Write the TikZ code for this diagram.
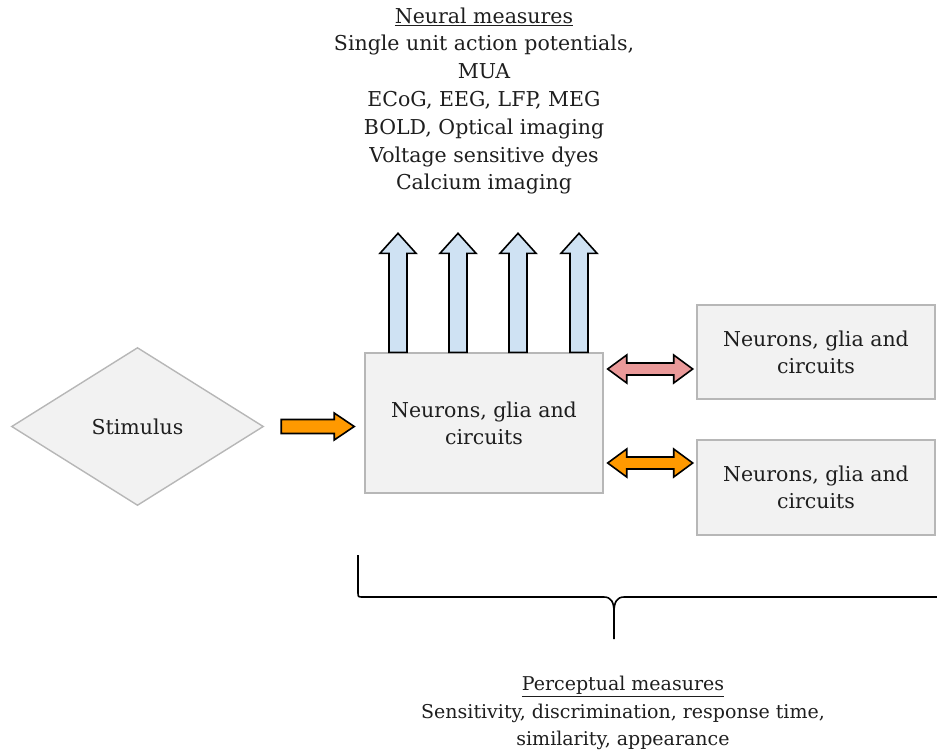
\documentclass[tikz,border=0pt]{standalone}
\usepackage{fontspec}
\setmainfont{DejaVu Serif}
\usetikzlibrary{shapes.geometric,calc}
\definecolor{boxfill}{HTML}{F2F2F2}
\definecolor{boxline}{HTML}{B7B7B7}
\definecolor{bluefill}{HTML}{CFE2F3}
\definecolor{orangefill}{HTML}{FF9900}
\definecolor{pinkfill}{HTML}{EA9999}
\definecolor{txt}{HTML}{1E1E1E}
\begin{document}
\begin{tikzpicture}[x=1pt,y=-1pt,
  every node/.style={text=txt,font=\fontsize{20.5}{27}\selectfont},
  graybox/.style={draw=boxline,fill=boxfill,line width=1.4pt,align=center,inner sep=0pt},
  blockarrow/.style={draw=black,line width=1.6pt,line join=miter},
  brace/.style={draw=black,line width=1.6pt}]
\useasboundingbox (0,0) rectangle (937,755);
\node[graybox,diamond,minimum width=252pt,minimum height=158pt] (stim) at (137.5,426.5) {Stimulus};
\node[graybox,minimum width=238pt,minimum height=140pt] (main) at (484,423) {Neurons, glia and\\circuits};
\node[graybox,minimum width=238pt,minimum height=94pt] (top) at (816,352) {Neurons, glia and\\circuits};
\node[graybox,minimum width=238pt,minimum height=95pt] (bot) at (816,487.5) {Neurons, glia and\\circuits};
\node[align=center,font=\fontsize{20.5}{27.8}\selectfont] (neural) at (484,101) {\underline{Neural measures}\\Single unit action potentials,\\MUA\\ECoG, EEG, LFP, MEG\\BOLD, Optical imaging\\Voltage sensitive dyes\\Calcium imaging};
\node[align=center,font=\fontsize{19}{27.5}\selectfont] (percept) at (623,713) {\underline{Perceptual measures}\\Sensitivity, discrimination, response time,\\similarity, appearance};
% stimulus arrow
\draw[blockarrow,fill=orangefill] ($(stim.east)+(17,-7)$) -- ++(53,0) -- ++(0,-6.5) -- ++(20,13.5) -- ++(-20,13.5) -- ++(0,-6.5) -- ++(-53,0) -- cycle;
% up arrows
\foreach \dx in {-86,-26,34,95}{
  \draw[blockarrow,fill=bluefill] ($(main.north)+(\dx-9,0)$) -- ++(0,-99) -- ++(-9,0) -- ++(18,-20) -- ++(18,20) -- ++(-9,0) -- ++(0,99) -- cycle;
}
% double arrows
\coordinate (p1) at ($(main.east)+(4,-54)$);
\coordinate (p2) at ($(main.east)+(4,40)$);
\draw[blockarrow,fill=pinkfill] (p1) -- ++(19,-14) -- ++(0,8) -- ++(47,0) -- ++(0,-8) -- ++(19,14) -- ++(-19,14) -- ++(0,-8) -- ++(-47,0) -- ++(0,8) -- cycle;
\draw[blockarrow,fill=orangefill] (p2) -- ++(19,-14) -- ++(0,8) -- ++(47,0) -- ++(0,-8) -- ++(19,14) -- ++(-19,14) -- ++(0,-8) -- ++(-47,0) -- ++(0,8) -- cycle;
% brace
\draw[brace] (358,555) -- (358,592) .. controls (358,597) .. (363,597) -- (604,597) .. controls (611,597) and (614,602) .. (614,612) -- (614,639);
\draw[brace] (937,597) -- (624,597) .. controls (617,597) and (614,602) .. (614,612);
\end{tikzpicture}
\end{document}
